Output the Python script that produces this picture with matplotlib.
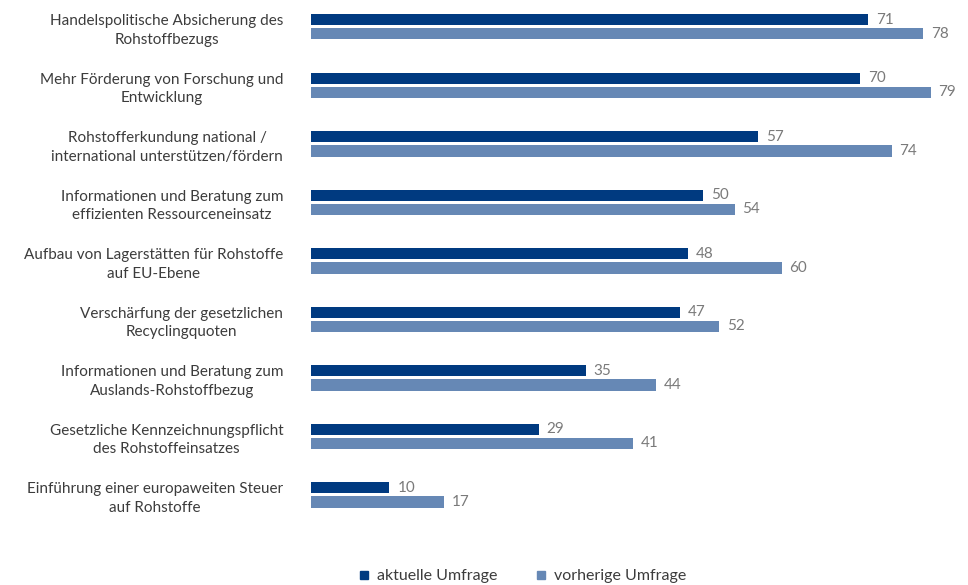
import matplotlib.pyplot as plt
from matplotlib.lines import Line2D
import numpy as np

plt.rcParams['font.family'] = ['Lato', 'DejaVu Sans']

categories = [
    "Handelspolitische Absicherung des\nRohstoffbezugs",
    "Mehr Förderung von Forschung und\nEntwicklung",
    "Rohstofferkundung national /\ninternational unterstützen/fördern",
    "Informationen und Beratung zum\neffizienten Ressourceneinsatz",
    "Aufbau von Lagerstätten für Rohstoffe\nauf EU-Ebene",
    "Verschärfung der gesetzlichen\nRecyclingquoten",
    "Informationen und Beratung zum\nAuslands-Rohstoffbezug",
    "Gesetzliche Kennzeichnungspflicht\ndes Rohstoffeinsatzes",
    "Einführung einer europaweiten Steuer\nauf Rohstoffe",
]
aktuell = [71, 70, 57, 50, 48, 47, 35, 29, 10]
vorher = [78, 79, 74, 54, 60, 52, 44, 41, 17]

dark = '#003a80'
light = '#6688b5'
text_col = '#3c3c3c'
val_col = '#7a7a7a'

fig = plt.figure(figsize=(9.68, 5.85), dpi=100)
ax = fig.add_axes([311 / 968, 1 - 540 / 585, 647 / 968, 540 / 585])

y = np.arange(len(categories))
h = 0.19
off = 0.12
ax.barh(y - off, aktuell, height=h, color=dark)
ax.barh(y + off, vorher, height=h, color=light)

for yi, a, v in zip(y, aktuell, vorher):
    ax.text(a + 1.0, yi - off, str(a), va='center', ha='left', fontsize=11, color=val_col)
    ax.text(v + 1.0, yi + off, str(v), va='center', ha='left', fontsize=11, color=val_col)

ax.set_xlim(0, 647 / 7.845)
ax.set_ylim(8.77, -0.46)
ax.set_yticks(y)
ax.set_yticklabels(categories, fontsize=11, color=text_col, linespacing=1.4,
                   multialignment='center')
ax.tick_params(axis='y', length=0, pad=20)
ax.set_xticks([])
for s in ax.spines.values():
    s.set_visible(False)

handles = [
    Line2D([], [], marker='s', linestyle='', color=dark, markersize=6),
    Line2D([], [], marker='s', linestyle='', color=light, markersize=6),
]
fig.legend(handles, ['aktuelle Umfrage', 'vorherige Umfrage'], loc='lower center',
           bbox_to_anchor=(0.54, -0.022), ncol=2, frameon=False, fontsize=11.5,
           handlelength=0.6, handletextpad=0.5, columnspacing=2.4, labelcolor=text_col)

fig.savefig('out.png', dpi=100)
